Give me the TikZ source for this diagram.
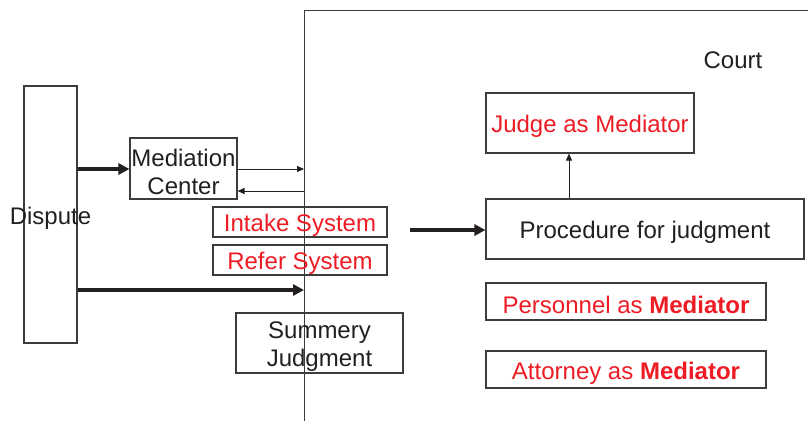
\documentclass[tikz,border=0pt]{standalone}
\usepackage{fontspec}
\setmainfont{Liberation Sans}
\usetikzlibrary{arrows.meta}
\definecolor{txtred}{RGB}{237,28,36}
\definecolor{txtblk}{RGB}{35,31,32}
\definecolor{edge}{RGB}{60,60,60}
\begin{document}
\begin{tikzpicture}[x=1pt,y=-1pt,
  every node/.style={font=\fontsize{24}{28}\selectfont, text=txtblk},
  box/.style={draw=edge, line width=1.1pt, inner sep=0pt},
  btxt/.style={label={[yshift=-3.5pt, align=center]center:#1}},
  rtxt/.style={label={[yshift=-3.5pt, align=center, text=txtred]center:#1}},
  thick arrow/.style={line width=3.4pt, draw=txtblk, -{Triangle[length=11pt,width=11pt]}},
  thin arrow/.style={line width=1pt, draw=txtblk, -{Triangle[length=7pt,width=6pt]}}]
\useasboundingbox (0,0) rectangle (808,421);
% court outline
\coordinate (cb) at (304,421);
\coordinate (ctl) at (304,10);
\coordinate (ctr) at (808,10);
\draw[edge, line width=1pt] (cb) -- (ctl) -- (ctr);
\node (court) at (733,60) {Court};
% boxes
\node[box, minimum width=53pt, minimum height=257pt, btxt={Dispute}] (dispute) at (50.5,214.5) {};
\node[box, minimum width=107pt, minimum height=61pt, btxt={Mediation\\Center}] (medc) at (183.5,168.5) {};
\node[box, minimum width=174pt, minimum height=30pt, rtxt={Intake System}] (intake) at (300,222) {};
\node[box, minimum width=174pt, minimum height=30pt, rtxt={Refer System}] (refer) at (300,260) {};
\node[box, minimum width=167pt, minimum height=60pt, btxt={Summery\\Judgment}] (summ) at (319.5,343) {};
\node[box, minimum width=318pt, minimum height=60pt, btxt={Procedure for judgment}] (proc) at (645,229) {};
\node[box, minimum width=208pt, minimum height=60pt, rtxt={Judge as Mediator}] (judge) at (590,123) {};
\node[box, minimum width=280pt, minimum height=37pt, rtxt={Personnel as \textbf{Mediator}}] (pers) at (626,301.5) {};
\node[box, minimum width=280pt, minimum height=37pt, rtxt={Attorney as \textbf{Mediator}}] (att) at (626,369.5) {};
% connectors
\draw[thick arrow] (dispute.east |- 0,169) -- (medc.west |- 0,169);
\coordinate (m1) at (304,169);
\coordinate (m2) at (304,191);
\draw[thin arrow] (medc.east |- m1) -- (m1);
\draw[thin arrow] (m2) -- (medc.east |- m2);
\coordinate (d2) at (304,290);
\draw[thick arrow] (dispute.east |- d2) -- (d2);
\coordinate (p0) at (410,230);
\draw[thick arrow] (p0) -- (proc.west |- p0);
\draw[thin arrow] (proc.north -| 569,0) -- (judge.south -| 569,0);
\end{tikzpicture}
\end{document}
